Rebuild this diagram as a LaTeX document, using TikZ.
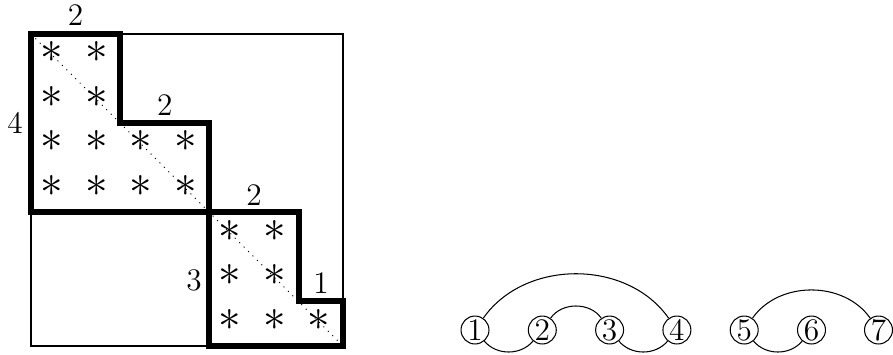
\documentclass[tikz,border=0pt]{standalone}
\begin{document}
\begin{tikzpicture}[x=0.013453cm,y=-0.013453cm,
  block/.style={line width=2.3pt},
  ast/.style={inner sep=0pt,font=\LARGE},
  dim/.style={inner sep=0pt,font=\large},
  vertex/.style={circle,draw,line width=0.4pt,inner sep=0pt,minimum size=10.7pt,font=\large}]
\useasboundingbox (0,0) rectangle (893,354);
% outer matrix frame
\draw (31,34) rectangle (343,346);
\draw[dotted] (31,34) -- (343,346);
% blocks
\draw[block] (31,34) -- (120,34) -- (120,123) -- (209,123) -- (209,212) -- (31,212) -- cycle;
\draw[block] (209,212) -- (299,212) -- (299,301) -- (343,301) -- (343,346) -- (209,346) -- cycle;
% nonzeros
\foreach \r/\c in {1/1,1/2,2/1,2/2,3/1,3/2,3/3,3/4,4/1,4/2,4/3,4/4,5/5,5/6,6/5,6/6,7/5,7/6,7/7}
  \node[ast] (a\r\c) at ({31+44.57*(\c-0.5)-1.5},{34+44.57*(\r-0.5)-4}) {$*$};
% block sizes
\node[dim] (w1) at (75.6,15) {2};
\node[dim] (w2) at (164.8,105) {2};
\node[dim] (w3) at (254,195) {2};
\node[dim] (w4) at (321,283) {1};
\node[dim] (h1) at (15,123) {4};
\node[dim] (h2) at (194,280) {3};
% graph
\foreach \i/\x in {1/475,2/542.3,3/609.6,4/676.9,5/744.2,6/811.5,7/878.5}
  \node[vertex] (v\i) at (\x,330) {\i};
\draw (v1) to[bend left=55] (v4);
\draw (v2) to[bend left=55] (v3);
\draw (v1) to[bend right=50] (v2);
\draw (v3) to[bend right=50] (v4);
\draw (v5) to[bend left=55] (v7);
\draw (v5) to[bend right=50] (v6);
\end{tikzpicture}
\end{document}
